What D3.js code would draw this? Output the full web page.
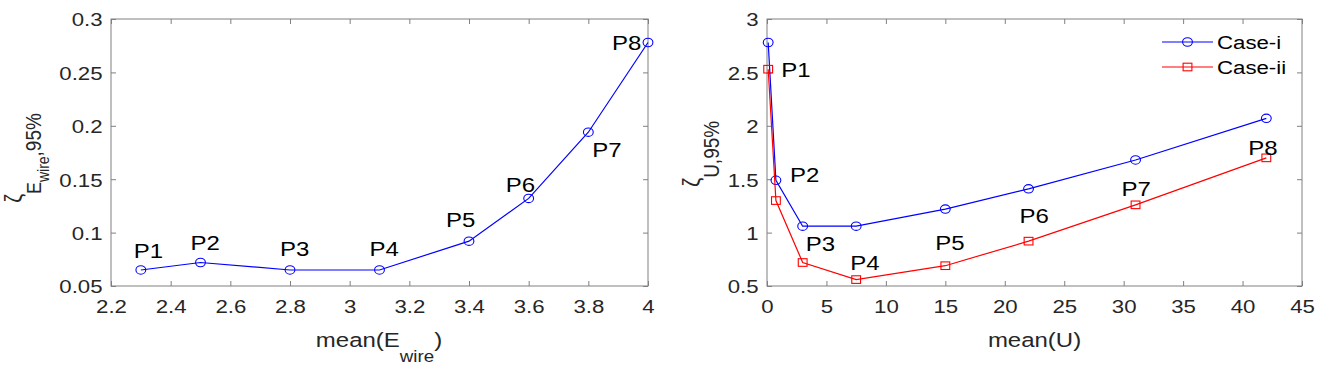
<!DOCTYPE html>
<html><head><meta charset="utf-8">
<script src="https://cdn.jsdelivr.net/npm/d3@7"></script>
<style>
body{margin:0;background:#fff}
svg{display:block}
text{font-family:"Liberation Sans",Arial,Helvetica,sans-serif}
</style>
</head><body>
<svg id="chart" width="1329" height="365"></svg>
<script>
// ---------- data ----------
const pointLabels = ["P1","P2","P3","P4","P5","P6","P7","P8"];
const eWireMean = [2.3, 2.5, 2.8, 3.1, 3.4, 3.6, 3.8, 4.0];
const zetaE = [0.065, 0.072, 0.065, 0.065, 0.092, 0.132, 0.194, 0.278];
const uMean = [0.1, 0.75, 3, 7.5, 15, 22, 31, 42];
const zetaUCaseI = [2.78, 1.49, 1.06, 1.06, 1.22, 1.41, 1.68, 2.07];
const zetaUCaseII = [2.53, 1.30, 0.72, 0.56, 0.69, 0.92, 1.26, 1.70];
const seriesNames = ["Case-i", "Case-ii"];

const leftXTicks = [2.2, 2.4, 2.6, 2.8, 3.0, 3.2, 3.4, 3.6, 3.8, 4.0];
const leftXTickLabels = ["2.2","2.4","2.6","2.8","3","3.2","3.4","3.6","3.8","4"];
const leftYTicks = [0.05, 0.10, 0.15, 0.20, 0.25, 0.30];
const leftYTickLabels = ["0.05","0.1","0.15","0.2","0.25","0.3"];
const rightXTicks = [0, 5, 10, 15, 20, 25, 30, 35, 40, 45];
const rightXTickLabels = ["0","5","10","15","20","25","30","35","40","45"];
const rightYTicks = [0.5, 1, 1.5, 2, 2.5, 3];
const rightYTickLabels = ["0.5","1","1.5","2","2.5","3"];

// ---------- layout / style ----------
const SX = 1.17;              // horizontal stretch of the original raster
const AXIS_COLOR = "#808080";
const TICK_TEXT = "#262626";
const TICK_FS = 19, LABEL_FS = 20.5;
const TICK_LEN = 5;
const BLUE = "#0000ff", RED = "#ff0000";
// pixel offsets of the P-labels from their anchor points
const leftLabelOffsets = [[-7,-12],[-10,-12.5],[-10,-14],[-10,-14],[-23,-14],[-23,-6],[4,25],[-36,8]];
const rightLabelOffsets = [[13,8],[14,2],[3,-12],[-6,-10],[-10,-16],[-9,-18],[-14,-9],[-18,-3]];

const svg = d3.select("#chart");

function drawAxes(xs, ys, xt, xtl, yt, ytl) {
  const [x0, x1] = xs.range(), [y0, y1] = ys.range();
  const g = svg.append("g");
  g.append("rect").attr("x", x0).attr("y", y1).attr("width", x1 - x0).attr("height", y0 - y1)
    .attr("fill", "none").attr("stroke", AXIS_COLOR).attr("stroke-width", 1);
  const style = a => {
    a.select(".domain").remove();
    a.selectAll("line").attr("stroke", AXIS_COLOR);
    a.attr("font-family", null).attr("font-size", TICK_FS);
    a.selectAll("text").attr("fill", TICK_TEXT);
  };
  const b = g.append("g").attr("transform", `translate(0,${y0})`)
    .call(d3.axisBottom(xs).tickValues(xt).tickFormat((d, i) => xtl[i]).tickSizeInner(-TICK_LEN).tickSizeOuter(0));
  style(b);
  b.selectAll("text").attr("y", 27).attr("dy", null).attr("transform", `scale(${SX},1)`);
  const t = g.append("g").attr("transform", `translate(0,${y1})`)
    .call(d3.axisTop(xs).tickValues(xt).tickFormat("").tickSizeInner(-TICK_LEN).tickSizeOuter(0));
  style(t);
  const l = g.append("g").attr("transform", `translate(${x0},0)`)
    .call(d3.axisLeft(ys).tickValues(yt).tickFormat((d, i) => ytl[i]).tickSizeInner(-TICK_LEN).tickSizeOuter(0));
  style(l);
  l.selectAll("text").attr("x", 0).attr("dy", "0.36em").attr("transform", `translate(-8.5,0) scale(${SX},1)`);
  const r = g.append("g").attr("transform", `translate(${x1},0)`)
    .call(d3.axisRight(ys).tickValues(yt).tickFormat("").tickSizeInner(-TICK_LEN).tickSizeOuter(0));
  style(r);
}

function drawSeries(xs, ys, xv, yv, color, marker) {
  const pts = xv.map((x, i) => [xs(x), ys(yv[i])]);
  svg.append("path").datum(xv.map((x, i) => [x, yv[i]]))
    .attr("d", d3.line().x(d => xs(d[0])).y(d => ys(d[1])))
    .attr("fill", "none").attr("stroke", color).attr("stroke-width", 1.2);
  drawMarkers(pts, color, marker);
  return pts;
}
function drawMarkers(pts, color, marker) {
  if (marker === "circle") {
    svg.append("g").selectAll("ellipse").data(pts).join("ellipse")
      .attr("cx", d => d[0]).attr("cy", d => d[1]).attr("rx", 4.9).attr("ry", 4.2)
      .attr("fill", "none").attr("stroke", color).attr("stroke-width", 1.1);
  } else {
    svg.append("g").selectAll("rect").data(pts).join("rect")
      .attr("x", d => d[0] - 4.4).attr("y", d => d[1] - 3.8).attr("width", 8.8).attr("height", 7.6)
      .attr("fill", "none").attr("stroke", color).attr("stroke-width", 1.1);
  }
}
function drawPointLabels(pts, offsets) {
  svg.append("g").selectAll("text").data(pts).join("text")
    .attr("transform", (d, i) => `translate(${d[0] + offsets[i][0]},${d[1] + offsets[i][1]}) scale(${SX},1)`)
    .attr("font-size", LABEL_FS).attr("fill", "#000")
    .text((d, i) => pointLabels[i]);
}

// ---------- left panel ----------
const xL = d3.scaleLinear().domain([2.2, 4]).range([111, 648]);
const yL = d3.scaleLinear().domain([0.05, 0.3]).range([286, 19]);
drawAxes(xL, yL, leftXTicks, leftXTickLabels, leftYTicks, leftYTickLabels);
const ptsL = drawSeries(xL, yL, eWireMean, zetaE, BLUE, "circle");
drawPointLabels(ptsL, leftLabelOffsets);

// x label
{
  const t = svg.append("text").attr("transform", `translate(379,347) scale(${SX},1)`)
    .attr("text-anchor", "middle").attr("font-size", LABEL_FS).attr("fill", TICK_TEXT);
  t.append("tspan").text("mean(E");
  t.append("tspan").attr("font-size", 16).attr("dy", 15).text("wire");
  t.append("tspan").attr("dy", -15).text(")");
}
// y label
{
  const t = svg.append("text").attr("transform", `translate(22,158) scale(${SX},1) rotate(-90)`)
    .attr("text-anchor", "middle").attr("font-size", 20).attr("fill", TICK_TEXT);
  t.append("tspan").text("ζ");
  t.append("tspan").attr("font-size", 18).attr("dy", 16).text("E");
  t.append("tspan").attr("font-size", 14).attr("dy", 7).text("wire");
  t.append("tspan").attr("font-size", 19).attr("dy", -7).text(",95%");
}

// ---------- right panel ----------
const xR = d3.scaleLinear().domain([0, 45]).range([767, 1302]);
const yR = d3.scaleLinear().domain([0.5, 3]).range([286, 19]);
drawAxes(xR, yR, rightXTicks, rightXTickLabels, rightYTicks, rightYTickLabels);
const ptsR1 = drawSeries(xR, yR, uMean, zetaUCaseI, BLUE, "circle");
const ptsR2 = drawSeries(xR, yR, uMean, zetaUCaseII, RED, "square");
drawPointLabels(pointLabels.map((p, i) => i === 1 ? ptsR1[i] : ptsR2[i]), rightLabelOffsets);

{
  svg.append("text").attr("transform", `translate(1034.5,347) scale(${SX},1)`)
    .attr("text-anchor", "middle").attr("font-size", LABEL_FS).attr("fill", TICK_TEXT).text("mean(U)");
}
{
  const t = svg.append("text").attr("transform", `translate(700,154) scale(${SX},1) rotate(-90)`)
    .attr("text-anchor", "middle").attr("font-size", 21).attr("fill", TICK_TEXT);
  t.append("tspan").text("ζ");
  t.append("tspan").attr("font-size", 19).attr("dy", 16).text("U,95%");
}

// legend
{
  const colors = [BLUE, RED], markers = ["circle", "square"];
  const lx0 = 1162, lx1 = 1213, ly = [42, 67];
  seriesNames.forEach((name, i) => {
    svg.append("line").attr("x1", lx0).attr("x2", lx1).attr("y1", ly[i]).attr("y2", ly[i])
      .attr("stroke", colors[i]).attr("stroke-width", 1.2);
    drawMarkers([[(lx0 + lx1) / 2, ly[i]]], colors[i], markers[i]);
    svg.append("text").attr("transform", `translate(1217,${ly[i] + 7}) scale(${SX},1)`)
      .attr("font-size", TICK_FS).attr("fill", "#000").text(name);
  });
}
</script>
</body></html>
